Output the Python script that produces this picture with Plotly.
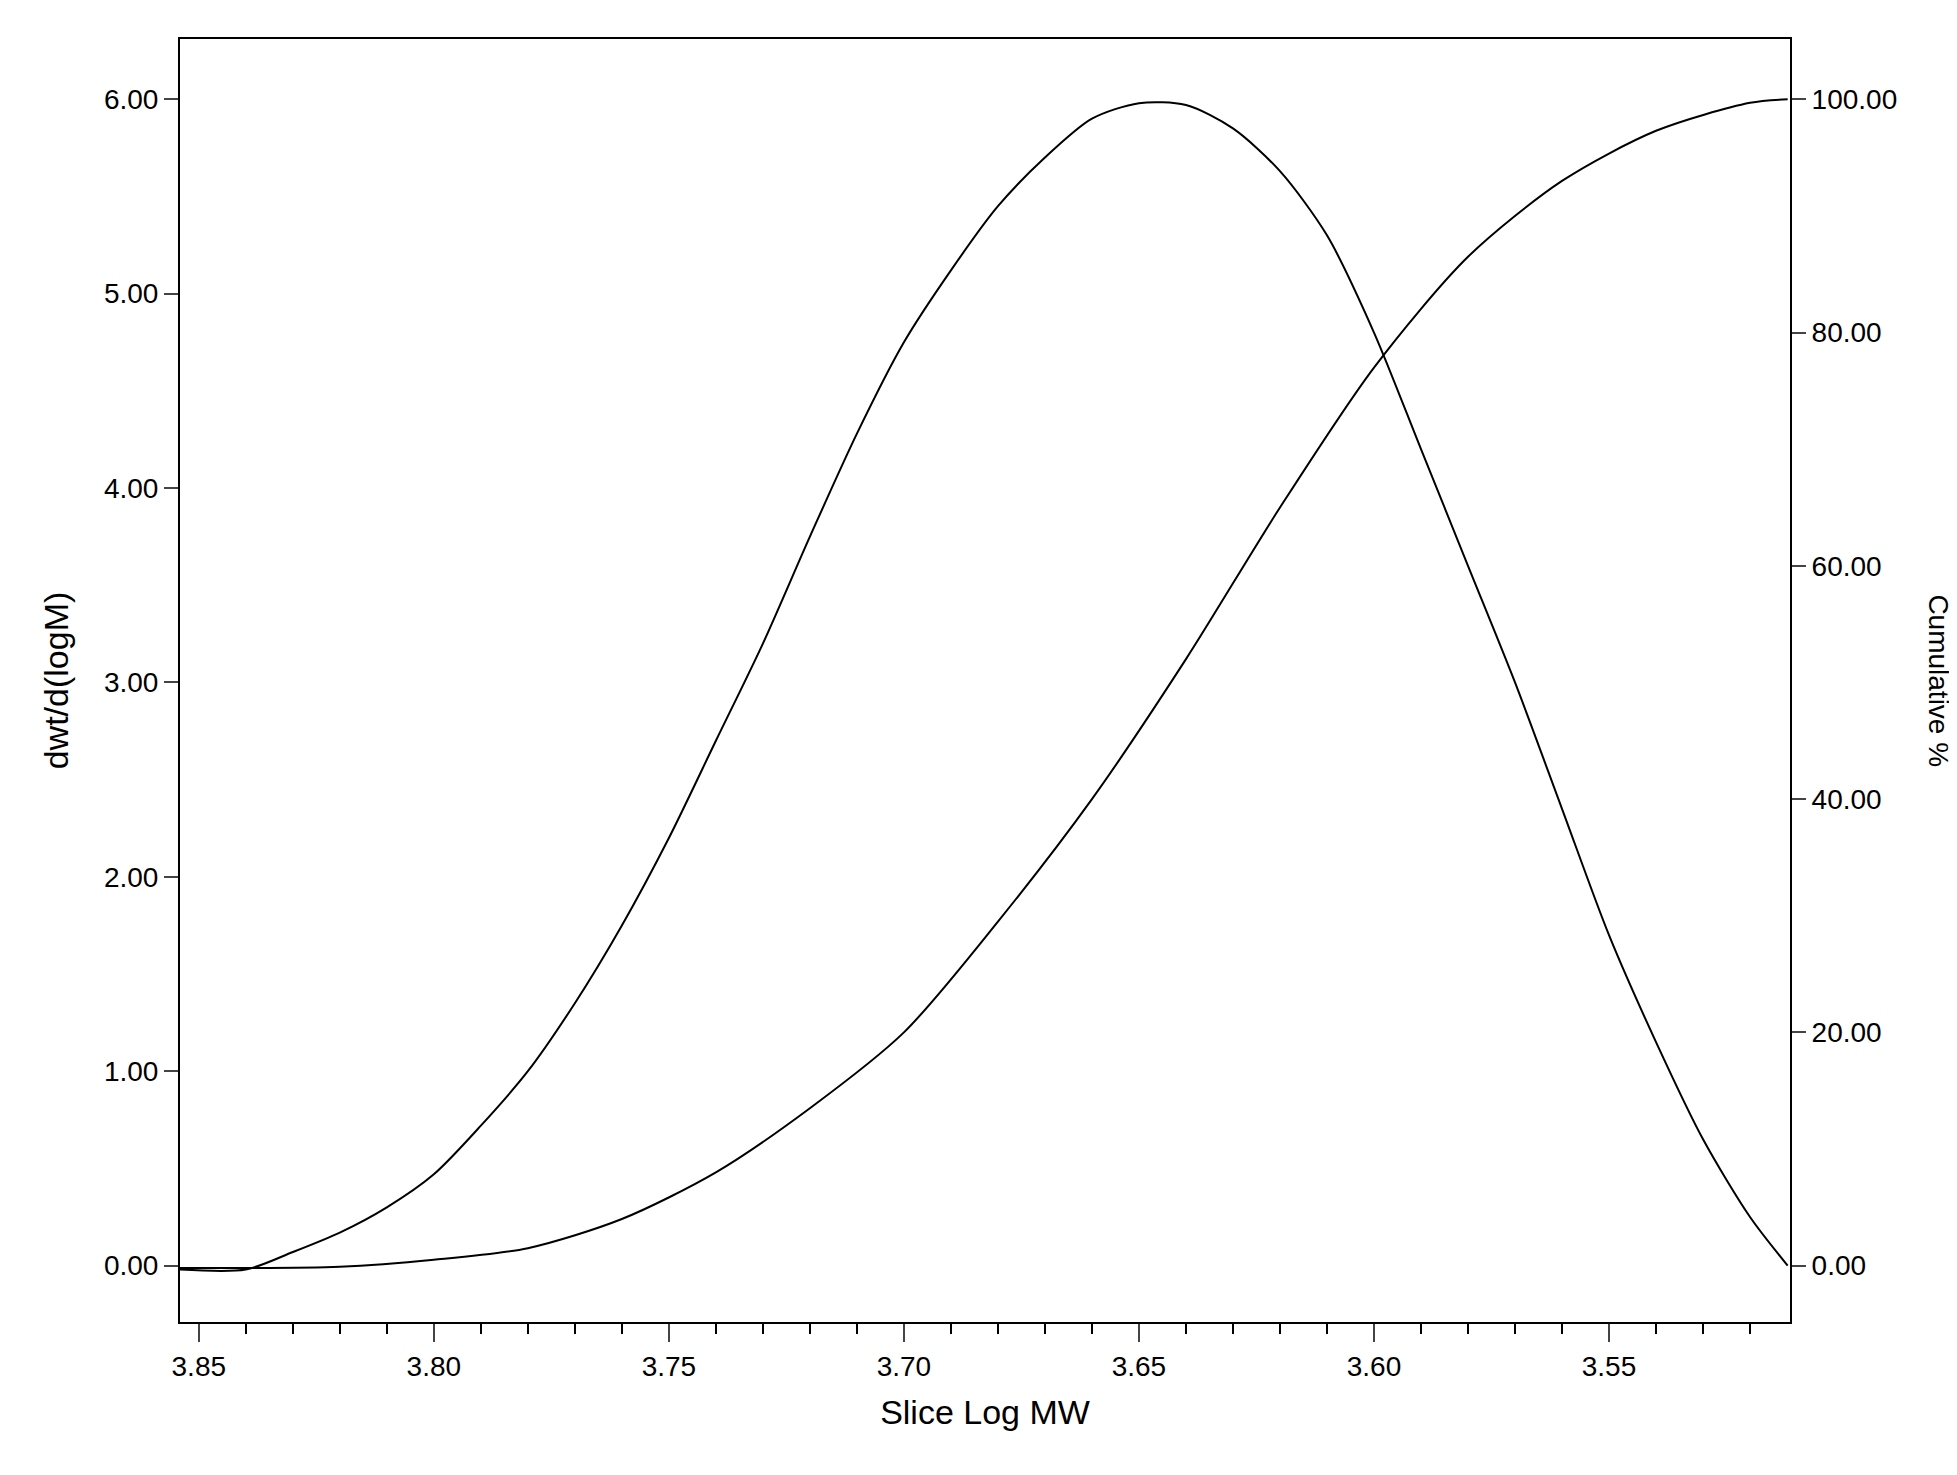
import plotly.graph_objects as go

x_diff = [3.854,3.84,3.83,3.82,3.81,3.80,3.79,3.78,3.77,3.76,3.75,3.74,3.73,3.72,3.71,3.70,3.69,3.68,3.67,3.66,3.65,3.64,3.63,3.62,3.61,3.60,3.59,3.58,3.57,3.56,3.55,3.54,3.53,3.52,3.512]
y_diff = [-0.02,-0.02,0.07,0.17,0.3,0.47,0.72,1.0,1.35,1.75,2.2,2.7,3.2,3.75,4.28,4.75,5.12,5.45,5.7,5.9,5.98,5.97,5.85,5.63,5.3,4.8,4.2,3.6,3.0,2.35,1.7,1.15,0.65,0.25,0.0]
x_cum = [3.854,3.82,3.80,3.78,3.76,3.74,3.72,3.70,3.68,3.66,3.64,3.62,3.60,3.58,3.56,3.54,3.52,3.512]
y_cum = [-0.2,-0.1,0.5,1.5,4,8,13.5,20,29.5,40,52,65,77,86.5,93,97.3,99.7,100]

F = "Liberation Sans Narrow, Liberation Sans, Arial"
fig = go.Figure()
fig.add_trace(go.Scatter(x=x_diff, y=y_diff, mode="lines", line=dict(color="black", width=2, shape="spline", smoothing=0.8), yaxis="y"))
fig.add_trace(go.Scatter(x=x_cum, y=y_cum, mode="lines", line=dict(color="black", width=2, shape="spline", smoothing=0.8), yaxis="y2"))
fig.update_layout(
    width=1957, height=1475, showlegend=False, plot_bgcolor="white", paper_bgcolor="white",
    margin=dict(l=172, r=175, t=31, b=161),
    font=dict(family=F, size=28, color="black"),
    xaxis=dict(range=[3.854, 3.5115], tickvals=[3.85,3.80,3.75,3.70,3.65,3.60,3.55], ticktext=["3.85","3.80","3.75","3.70","3.65","3.60","3.55"],
               ticks="outside", ticklen=18, tickwidth=2, showline=True, linewidth=2, linecolor="black", mirror=True, showgrid=False, zeroline=False,
               minor=dict(dtick=0.01, ticks="outside", ticklen=10, tickwidth=2, tickcolor="black"),
               title=dict(text="Slice Log MW", standoff=20)),
    yaxis=dict(range=[-0.29, 6.31], tickvals=[0,1,2,3,4,5,6], ticktext=["0.00","1.00","2.00","3.00","4.00","5.00","6.00"],
               ticks="outside", ticklen=14, tickwidth=2, showline=True, linewidth=2, linecolor="black", showgrid=False, zeroline=False,
               title=dict(text="dwt/d(logM)", standoff=25)),
    yaxis2=dict(range=[-4.83, 105.17], overlaying="y", side="right", tickvals=[0,20,40,60,80,100],
                ticktext=["0.00","20.00","40.00","60.00","80.00","100.00"],
                ticks="outside", ticklen=14, tickwidth=2, showline=True, linewidth=2, linecolor="black", showgrid=False, zeroline=False),
    annotations=[dict(text="Cumulative %", textangle=90, xref="paper", yref="paper", x=1.092, y=0.5, showarrow=False,
                      xanchor="center", yanchor="middle", font=dict(family=F, size=28))],
)
fig.write_html("out.html")
